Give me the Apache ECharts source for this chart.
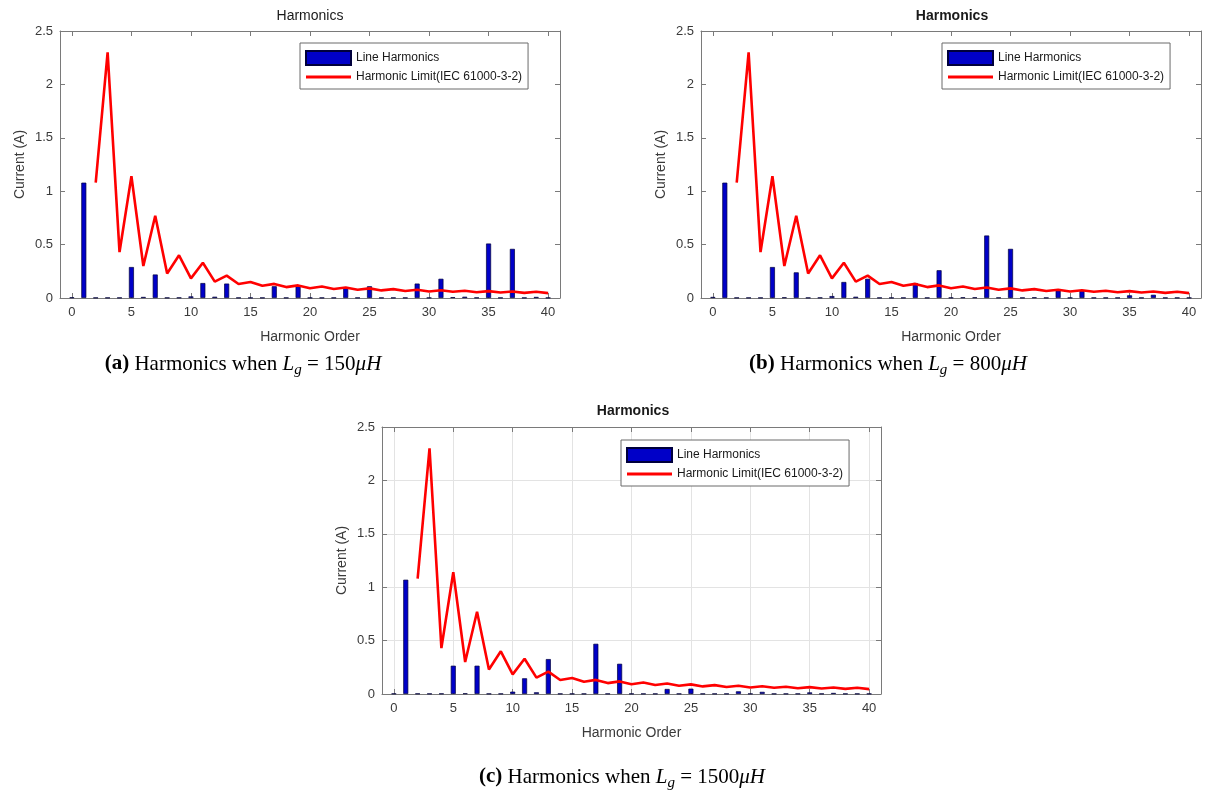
<!DOCTYPE html>
<html>
<head>
<meta charset="utf-8">
<title>Harmonics</title>
<script src="https://cdn.jsdelivr.net/npm/echarts@6/dist/echarts.min.js"></script>
<style>
  html, body { margin: 0; padding: 0; background: #fff; }
  #chart { width: 1206px; height: 793px; }
</style>
</head>
<body>
<div id="chart"></div>
<script>
// Harmonic orders 0..40
const harmonicOrder = [0, 1, 2, 3, 4, 5, 6, 7, 8, 9, 10, 11, 12, 13, 14, 15, 16, 17, 18, 19, 20,
  21, 22, 23, 24, 25, 26, 27, 28, 29, 30, 31, 32, 33, 34, 35, 36, 37, 38, 39, 40];

// IEC 61000-3-2 (Class A) limits in A, defined from order 2
const limitIEC = [null, null, 1.08, 2.30, 0.43, 1.14, 0.30, 0.77, 0.23, 0.40, 0.184, 0.33, 0.153, 0.21,
  0.131, 0.15, 0.115, 0.132, 0.102, 0.118, 0.092, 0.107, 0.084, 0.098, 0.077, 0.09, 0.071, 0.083,
  0.066, 0.078, 0.061, 0.073, 0.058, 0.068, 0.054, 0.064, 0.051, 0.061, 0.048, 0.058, 0.046];

// Line current harmonics for Lg = 150 uH
const harmonicsLg150 = [0.006, 1.08, 0.003, 0.003, 0.003, 0.29, 0.01, 0.22, 0.003, 0.004, 0.015, 0.14,
  0.012, 0.135, 0.003, 0.003, 0.003, 0.11, 0.003, 0.12, 0.003, 0.003, 0.003, 0.10, 0.003, 0.11, 0.003,
  0.003, 0.003, 0.135, 0.003, 0.18, 0.008, 0.012, 0.004, 0.51, 0.003, 0.46, 0.003, 0.01, 0.003];

// Line current harmonics for Lg = 800 uH
const harmonicsLg800 = [0.01, 1.08, 0.003, 0.003, 0.003, 0.29, 0.006, 0.24, 0.003, 0.004, 0.018, 0.15,
  0.012, 0.18, 0.003, 0.003, 0.003, 0.14, 0.003, 0.26, 0.004, 0.006, 0.006, 0.585, 0.004, 0.46, 0.003,
  0.006, 0.003, 0.07, 0.003, 0.07, 0.003, 0.003, 0.003, 0.025, 0.003, 0.03, 0.003, 0.003, 0.003];

// Line current harmonics for Lg = 1500 uH
const harmonicsLg1500 = [0.004, 1.07, 0.004, 0.003, 0.004, 0.265, 0.006, 0.265, 0.003, 0.003, 0.022, 0.147,
  0.016, 0.327, 0.003, 0.003, 0.003, 0.47, 0.003, 0.283, 0.003, 0.003, 0.003, 0.047, 0.003, 0.05, 0.003,
  0.003, 0.003, 0.025, 0.003, 0.02, 0.003, 0.003, 0.003, 0.015, 0.003, 0.01, 0.003, 0.003, 0.003];

// Tick labels
const xTickValues = [0, 5, 10, 15, 20, 25, 30, 35, 40];
const yTickValues = [0, 0.5, 1, 1.5, 2, 2.5];

const panelTitles = ['Harmonics', 'Harmonics', 'Harmonics'];
const captionLabels = ['(a)', '(b)', '(c)'];
const captionInductance = ['150', '800', '1500'];
const barName = 'Line Harmonics';
const limitName = 'Harmonic Limit(IEC 61000-3-2)';

const panelHarmonics = [harmonicsLg150, harmonicsLg800, harmonicsLg1500];

// Layout of the three panels
const panels = [
  { left: 60, top: 31, width: 500, height: 267, titleBold: false, grid: false, legendLeft: 300, legendTop: 43,
    titleX: 310, titleY: 16, captionX: 243, captionY: 364 },
  { left: 701, top: 31, width: 500, height: 267, titleBold: true, grid: false, legendLeft: 942, legendTop: 43,
    titleX: 952, titleY: 16, captionX: 888, captionY: 364 },
  { left: 382, top: 427, width: 499, height: 267, titleBold: true, grid: true, legendLeft: 621, legendTop: 440,
    titleX: 633, titleY: 411, captionX: 622, captionY: 777 }
];

const axisColor = '#7a7a7a';
const labelColor = '#3a3a3a';
const sans = 'Liberation Sans, Arial, sans-serif';
const serif = 'Liberation Serif, Times New Roman, serif';
// thin horizontal stroke used as the limit-line legend key
const lineKeyIcon = 'path://M0,0 L45,0 L45,3 L0,3 Z';

const grids = [], xAxes = [], yAxes = [], series = [], legends = [], graphics = [];

panels.forEach((p, i) => {
  grids.push({ left: p.left, top: p.top, width: p.width, height: p.height, containLabel: false });

  const split = { show: p.grid, lineStyle: { color: '#e3e3e3', width: 1 } };

  // bottom x axis
  xAxes.push({
    gridIndex: i, type: 'value', min: -1, max: 41, position: 'bottom',
    axisLine: { show: true, onZero: false, lineStyle: { color: axisColor, width: 1 } },
    axisTick: { show: true, inside: true, length: 5, customValues: xTickValues, lineStyle: { color: axisColor } },
    axisLabel: { show: true, customValues: xTickValues, color: labelColor, fontSize: 13, fontFamily: sans, margin: 8 },
    splitLine: split,
    name: 'Harmonic Order', nameLocation: 'middle', nameGap: 32,
    nameTextStyle: { color: labelColor, fontSize: 14, fontFamily: sans }
  });
  // top x axis (box edge)
  xAxes.push({
    gridIndex: i, type: 'value', min: -1, max: 41, position: 'top',
    axisLine: { show: true, onZero: false, lineStyle: { color: axisColor, width: 1 } },
    axisTick: { show: true, inside: true, length: 5, customValues: xTickValues, lineStyle: { color: axisColor } },
    axisLabel: { show: false, customValues: xTickValues },
    splitLine: { show: false }
  });
  // left y axis
  yAxes.push({
    gridIndex: i, type: 'value', min: yTickValues[0], max: yTickValues[yTickValues.length - 1], interval: 0.5,
    position: 'left',
    axisLine: { show: true, onZero: false, lineStyle: { color: axisColor, width: 1 } },
    axisTick: { show: true, inside: true, length: 5, lineStyle: { color: axisColor } },
    axisLabel: { color: labelColor, fontSize: 13, fontFamily: sans, margin: 7 },
    splitLine: split,
    name: 'Current (A)', nameLocation: 'middle', nameGap: 33, nameRotate: 90,
    nameTextStyle: { color: labelColor, fontSize: 14, fontFamily: sans }
  });
  // right y axis (box edge)
  yAxes.push({
    gridIndex: i, type: 'value', min: yTickValues[0], max: yTickValues[yTickValues.length - 1], interval: 0.5,
    position: 'right',
    axisLine: { show: true, onZero: false, lineStyle: { color: axisColor, width: 1 } },
    axisTick: { show: true, inside: true, length: 5, lineStyle: { color: axisColor } },
    axisLabel: { show: false },
    splitLine: { show: false }
  });

  series.push({
    name: barName, type: 'bar', xAxisIndex: 2 * i, yAxisIndex: 2 * i,
    data: harmonicOrder.map((h, k) => [h, panelHarmonics[i][k]]),
    barWidth: 5,
    itemStyle: { color: '#0000c8', borderColor: '#00003c', borderWidth: 0.7 },
    emphasis: { disabled: true }
  });
  series.push({
    name: limitName, type: 'line', xAxisIndex: 2 * i, yAxisIndex: 2 * i,
    data: harmonicOrder.map((h, k) => [h, limitIEC[k]]),
    symbol: 'none', showSymbol: false, connectNulls: false,
    lineStyle: { color: '#ff0000', width: 2.6 },
    itemStyle: { color: '#ff0000' },
    z: 5,
    emphasis: { disabled: true }
  });

  legends.push({
    left: p.legendLeft, top: p.legendTop, orient: 'vertical',
    itemWidth: 45, itemHeight: 14, itemGap: 5, padding: [7, 6, 6, 5],
    borderColor: '#6a6a6a', borderWidth: 1, backgroundColor: '#ffffff',
    selectedMode: false, symbolKeepAspect: true,
    textStyle: { color: '#1a1a1a', fontSize: 12, fontFamily: sans },
    data: [
      { name: barName, icon: 'rect' },
      { name: limitName, icon: lineKeyIcon, itemStyle: { color: '#ff0000', borderWidth: 0 } }
    ]
  });

  graphics.push({
    type: 'text', x: p.titleX, y: p.titleY, silent: true,
    style: {
      text: panelTitles[i], align: 'center', verticalAlign: 'middle',
      fontSize: 14, fontFamily: sans, fontWeight: p.titleBold ? 'bold' : 'normal', fill: '#1a1a1a'
    }
  });

  graphics.push({
    type: 'text', x: p.captionX, y: p.captionY, silent: true,
    style: {
      text: '{b|' + captionLabels[i] + '}{r| Harmonics when }{i|L}{s|g}{r| = ' + captionInductance[i] + '}{i|\u03bcH}',
      align: 'center', verticalAlign: 'middle', fill: '#000',
      rich: {
        b: { fontSize: 21, fontFamily: serif, fontWeight: 'bold', fill: '#000' },
        r: { fontSize: 21, fontFamily: serif, fill: '#000' },
        i: { fontSize: 21, fontFamily: serif, fontStyle: 'italic', fill: '#000' },
        s: { fontSize: 15, fontFamily: serif, fontStyle: 'italic', fill: '#000', padding: [12, 0, 0, 0] }
      }
    }
  });
});

const chart = echarts.init(document.getElementById('chart'), null, { renderer: 'canvas' });
chart.setOption({
  animation: false,
  backgroundColor: '#ffffff',
  grid: grids,
  xAxis: xAxes,
  yAxis: yAxes,
  legend: legends,
  series: series,
  graphic: graphics
});
</script>
</body>
</html>
